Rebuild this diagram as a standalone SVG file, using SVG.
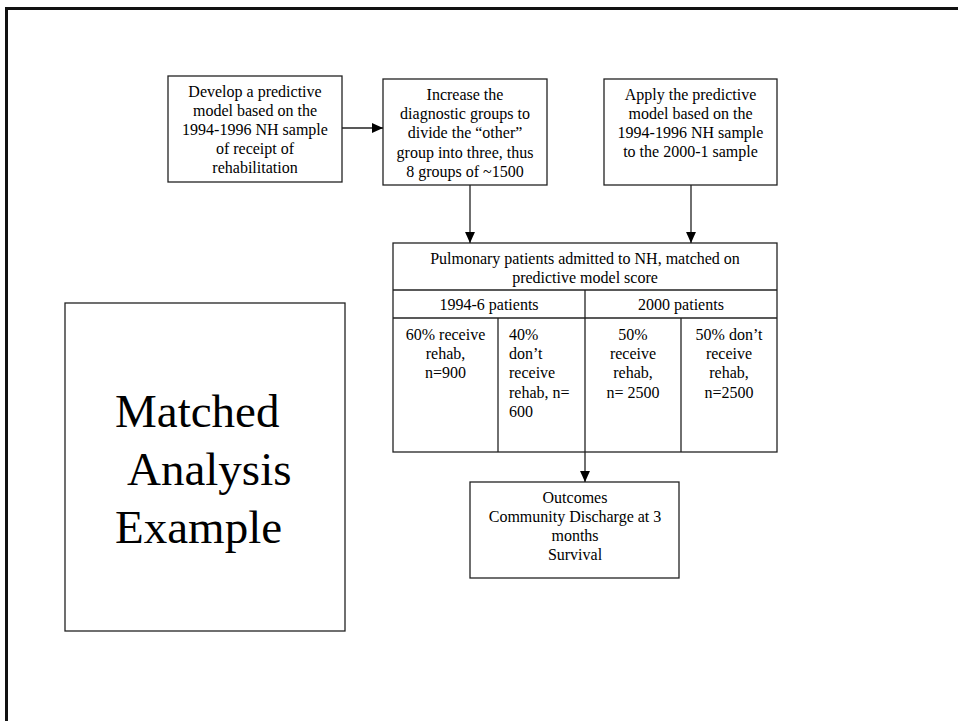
<svg xmlns="http://www.w3.org/2000/svg" width="958" height="721" viewBox="0 0 958 721">
<style>
.box{fill:#fff;stroke:#222;stroke-width:1.3}
.ln{stroke:#222;stroke-width:1.3;fill:none}
.t{font-family:"Liberation Serif","Times New Roman",serif;font-size:16px;fill:#000}
.c{text-anchor:middle}
.big{font-family:"Liberation Serif","Times New Roman",serif;font-size:47px;fill:#000}
</style>
<defs>
<marker id="ah" viewBox="0 0 10 10" refX="10" refY="5" markerWidth="11" markerHeight="11" markerUnits="userSpaceOnUse" orient="auto">
<path d="M0,0.5 L10,5 L0,9.5 Z" fill="#000"/>
</marker>
</defs>
<rect width="958" height="721" fill="#fff"/>
<rect x="6.5" y="8.5" width="1000" height="1000" fill="none" stroke="#111" stroke-width="3"/>

<g id="develop">
<rect class="box" x="168" y="76" width="174" height="106"/>
<text class="t c" x="255" y="97">Develop a predictive</text>
<text class="t c" x="255" y="116">model based on the</text>
<text class="t c" x="255" y="135">1994-1996 NH sample</text>
<text class="t c" x="255" y="154">of receipt of</text>
<text class="t c" x="255" y="173">rehabilitation</text>
</g>

<g id="increase">
<rect class="box" x="383" y="79" width="164" height="106"/>
<text class="t c" x="465" y="100">Increase the</text>
<text class="t c" x="465" y="119">diagnostic groups to</text>
<text class="t c" x="465" y="138">divide the “other”</text>
<text class="t c" x="465" y="158">group into three, thus</text>
<text class="t c" x="465" y="177">8 groups of ~1500</text>
</g>

<g id="apply">
<rect class="box" x="604" y="79" width="173" height="106"/>
<text class="t c" x="690.5" y="100">Apply the predictive</text>
<text class="t c" x="690.5" y="119">model based on the</text>
<text class="t c" x="690.5" y="138">1994-1996 NH sample</text>
<text class="t c" x="690.5" y="157">to the 2000-1 sample</text>
</g>

<g id="table">
<rect class="box" x="393" y="243" width="384" height="209"/>
<line class="ln" x1="393" y1="290" x2="777" y2="290"/>
<line class="ln" x1="393" y1="318" x2="777" y2="318"/>
<line class="ln" x1="585" y1="290" x2="585" y2="452"/>
<line class="ln" x1="498" y1="318" x2="498" y2="452"/>
<line class="ln" x1="681" y1="318" x2="681" y2="452"/>
<text class="t c" x="585" y="264">Pulmonary patients admitted to NH, matched on</text>
<text class="t c" x="585" y="283">predictive model score</text>
<text class="t c" x="489" y="310">1994-6 patients</text>
<text class="t c" x="681" y="310">2000 patients</text>
<text class="t c" x="445.5" y="340">60% receive</text>
<text class="t c" x="445.5" y="359">rehab,</text>
<text class="t c" x="445.5" y="378">n=900</text>
<text class="t" x="509" y="340">40%</text>
<text class="t" x="509" y="359">don’t</text>
<text class="t" x="509" y="378">receive</text>
<text class="t" x="509" y="398">rehab, n=</text>
<text class="t" x="509" y="417">600</text>
<text class="t c" x="633" y="340">50%</text>
<text class="t c" x="633" y="359">receive</text>
<text class="t c" x="633" y="378">rehab,</text>
<text class="t c" x="633" y="398">n= 2500</text>
<text class="t c" x="729" y="340">50% don’t</text>
<text class="t c" x="729" y="359">receive</text>
<text class="t c" x="729" y="378">rehab,</text>
<text class="t c" x="729" y="398">n=2500</text>
</g>

<g id="outcomes">
<rect class="box" x="470" y="482" width="209" height="96"/>
<text class="t c" x="575" y="503">Outcomes</text>
<text class="t c" x="575" y="522">Community Discharge at 3</text>
<text class="t c" x="575" y="541">months</text>
<text class="t c" x="575" y="560">Survival</text>
</g>

<g id="title">
<rect class="box" x="65" y="303" width="280" height="328"/>
<text class="big" x="115" y="427">Matched</text>
<text class="big" x="127" y="485">Analysis</text>
<text class="big" x="115" y="543">Example</text>
</g>

<g id="connectors">
<line class="ln" x1="342" y1="128" x2="383" y2="128" marker-end="url(#ah)"/>
<line class="ln" x1="470" y1="185" x2="470" y2="243" marker-end="url(#ah)"/>
<line class="ln" x1="691" y1="185" x2="691" y2="243" marker-end="url(#ah)"/>
<line class="ln" x1="585" y1="452" x2="585" y2="482" marker-end="url(#ah)"/>
</g>
</svg>
